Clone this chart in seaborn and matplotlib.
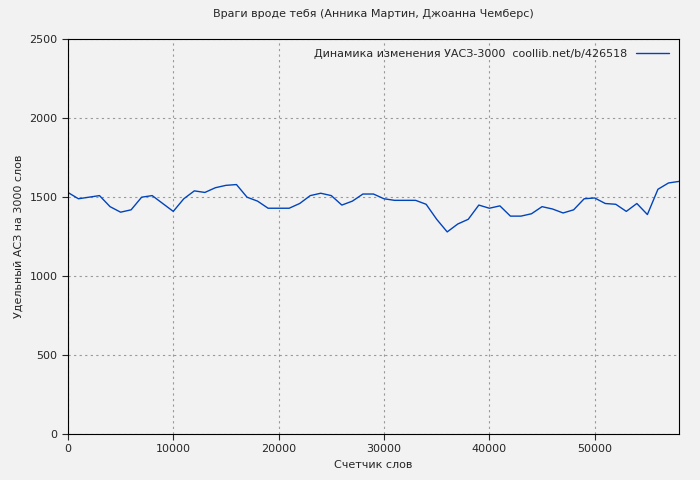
import numpy as np
import pandas as pd
import matplotlib
matplotlib.use("Agg")
import matplotlib.pyplot as plt
import seaborn as sns

words = np.arange(0, 59000, 1000)
uasz = [1530, 1490, 1500, 1510, 1440, 1405, 1420, 1500, 1510, 1460,
        1410, 1490, 1540, 1530, 1560, 1575, 1580, 1500, 1475, 1430,
        1430, 1430, 1460, 1510, 1525, 1510, 1450, 1475, 1520, 1520,
        1490, 1480, 1480, 1480, 1455, 1360, 1280, 1330, 1360, 1450,
        1430, 1445, 1380, 1380, 1395, 1440, 1425, 1400, 1420, 1490,
        1495, 1460, 1455, 1410, 1460, 1390, 1550, 1590, 1600]
df = pd.DataFrame({"words": words, "uasz": uasz})

sns.set_style("white")
plt.rcParams['font.family'] = ['DejaVu Sans']
fig = plt.figure(figsize=(7, 4.8), dpi=100, facecolor="#f2f2f2")
ax = fig.add_axes([0.097, 0.096, 0.873, 0.822])
ax.set_facecolor("#f2f2f2")
sns.lineplot(data=df, x="words", y="uasz", ax=ax, color="#0044bb", linewidth=1,
             label="Динамика изменения УАСЗ-3000  coollib.net/b/426518")
ax.set_xlim(0, 58000)
ax.set_ylim(0, 2500)
ax.set_xticks(range(0, 58000, 10000))
ax.set_yticks(range(0, 2501, 500))
ax.grid(True, color="#999999", linestyle=(0, (2, 3)), linewidth=0.8)
for s in ax.spines.values():
    s.set_color("black")
ax.tick_params(labelsize=8, length=4, direction="out", left=True, bottom=True)
ax.set_xlabel("Счетчик слов", fontsize=8)
ax.set_ylabel("Удельный АСЗ на 3000 слов", fontsize=8)
ax.set_title("Враги вроде тебя (Анника Мартин, Джоанна Чемберс)", fontsize=8, pad=16)
leg = ax.legend(loc="upper right", frameon=False, fontsize=8, markerfirst=False,
                handlelength=3)
fig.savefig("out.png", dpi=100, facecolor=fig.get_facecolor())
